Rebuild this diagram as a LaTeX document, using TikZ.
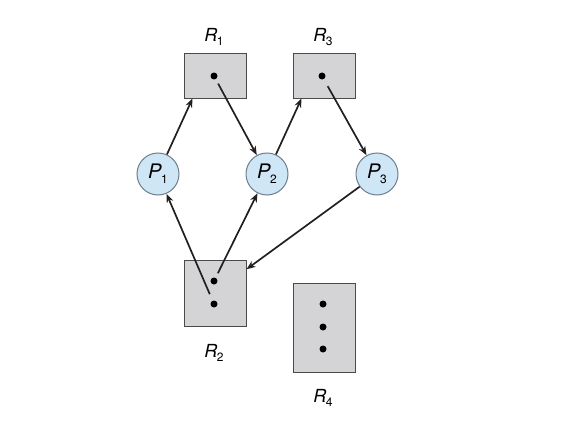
\documentclass[tikz,border=0pt]{standalone}
\usepackage{fontspec}
\setmainfont{TeX Gyre Heros}
\usetikzlibrary{arrows.meta}
\definecolor{boxfill}{HTML}{D4D4D6}
\definecolor{boxline}{HTML}{4A4A4A}
\definecolor{procfill}{HTML}{CFE6F6}
\definecolor{procline}{HTML}{6E7E8C}
\definecolor{arr}{HTML}{231F20}
\newcommand{\lbl}[2]{\textit{#1}\kern-0.5pt\raisebox{-0.5ex}{\fontsize{12}{13}\selectfont #2}}
\tikzset{
  resbox/.style={draw=boxline, fill=boxfill, line width=1pt, minimum width=62pt, inner sep=0pt},
  proc/.style={circle, draw=procline, fill=procfill, line width=1pt, minimum size=42pt, inner sep=0pt, font=\fontsize{20}{22}\selectfont},
  rdot/.style={circle, fill=black, minimum size=7pt, inner sep=0pt},
  rlabel/.style={font=\fontsize{18}{20}\selectfont},
  edge/.style={draw=arr, line width=1.7pt, -{Stealth[length=9pt, width=7pt]}}
}
\begin{document}
\begin{tikzpicture}[x=1pt, y=-1pt]
\useasboundingbox (0,0) rectangle (562,428);
% resources
\node[resbox, minimum height=44pt] (R1) at (215,76) {};
\node[resbox, minimum height=44pt] (R3) at (324,76) {};
\node[resbox, minimum height=66pt] (R2) at (215,293) {};
\node[resbox, minimum height=89pt] (R4) at (324,327.5) {};
% labels
\node[rlabel] (L1) at (214,37) {\lbl{R}{1}};
\node[rlabel] (L3) at (323,37) {\lbl{R}{3}};
\node[rlabel] (L2) at (214,353) {\lbl{R}{2}};
\node[rlabel] (L4) at (323,398) {\lbl{R}{4}};
% dots
\node[rdot] (d1) at (214,76) {};
\node[rdot] (d3) at (322,76) {};
\node[rdot] (d2a) at (214,281) {};
\node[rdot] (d2b) at (214,304) {};
\node[rdot] (d4a) at (323,304) {};
\node[rdot] (d4b) at (323,327) {};
\node[rdot] (d4c) at (323,349) {};
% processes
\node[proc] (P1) at (158,174) {\lbl{P}{1}};
\node[proc] (P2) at (267,174) {\lbl{P}{2}};
\node[proc] (P3) at (377,174) {\lbl{P}{3}};
% edges
\draw[edge] (P1) -- (R1.-135);
\draw[edge, shorten <=5pt] (d1) -- (P2);
\draw[edge] (P2) -- (R3.-135);
\draw[edge, shorten <=8pt] (d3) -- (P3);
\draw[edge, shorten <=7pt] (d2b) -- (P1);
\draw[edge, shorten <=5pt] (d2a) -- (P2);
\draw[edge] (P3) -- (R2.37);
\end{tikzpicture}
\end{document}
